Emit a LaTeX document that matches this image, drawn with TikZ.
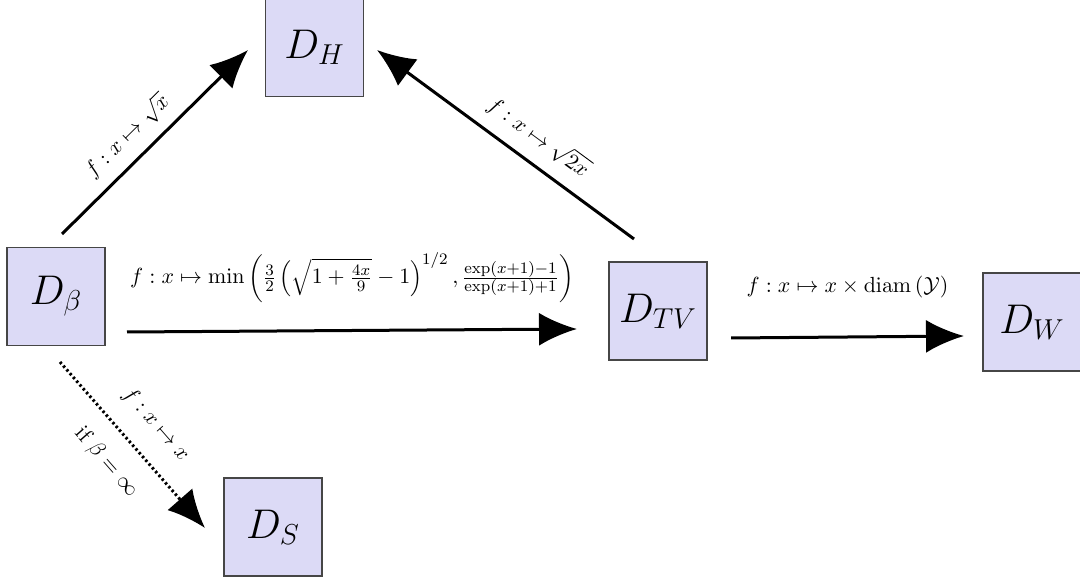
\documentclass[tikz,border=0pt]{standalone}
\usetikzlibrary{arrows.meta,calc}
\definecolor{boxfill}{RGB}{220,218,246}
\definecolor{boxline}{RGB}{70,70,70}
\begin{document}
\begin{tikzpicture}[x=0.5pt,y=-0.5pt,
  dbox/.style={draw=boxline,fill=boxfill,minimum size=49pt,inner sep=0pt,font=\huge,line width=0.6pt},
  conn/.style={line width=1.5pt,-{Latex[length=19pt,width=16.5pt]}},
  dotconn/.style={conn,dash pattern=on 1.2pt off 1.3pt},
  lbl/.style={font=\fontsize{10.9}{13}\selectfont}]
\useasboundingbox (0,0) rectangle (1080,582);
\node[dbox] (DH) at (314.5,47.5) {$D_H$};
\node[dbox] (Db) at (56,296.5) {$D_\beta$};
\node[dbox] (DTV) at (658,311) {$D_{TV}$};
\node[dbox] (DW) at (1032,322) {$D_W$};
\node[dbox] (DS) at (273,527) {$D_S$};

\draw[conn] ($(Db)+(6,-62.5)$) -- node[lbl,pos=0.44,sloped,above=2pt] {$f : x \mapsto \sqrt{x}$} ($(DH)+(-66.5,2.5)$);
\draw[conn] ($(DTV)+(-24,-72)$) -- node[lbl,pos=0.43,sloped,above=3pt] {$f : x \mapsto \sqrt{2x}$} ($(DH)+(62.5,2.5)$);
\draw[conn] ($(Db)+(71,35.5)$) -- node[lbl,midway,above=10pt] {$f : x \mapsto \min\left(\frac{3}{2}\left(\sqrt{1+\frac{4x}{9}}-1\right)^{1/2}, \frac{\exp(x+1)-1}{\exp(x+1)+1}\right)$} ($(DTV)+(-81,18)$);
\draw[conn] ($(DTV)+(73,27)$) -- node[lbl,midway,above=15.5pt] {$f : x \mapsto x \times \mathrm{diam}\left(\mathcal{Y}\right)$} ($(DW)+(-68,14)$);
\draw[dotconn] ($(Db)+(4,65.5)$) -- node[lbl,midway,sloped,above=6.5pt] {$f : x \mapsto x$} node[lbl,pos=0.48,sloped,below=6.5pt] {if $\beta = \infty$} ($(DS)+(-68,1)$);
\end{tikzpicture}
\end{document}
